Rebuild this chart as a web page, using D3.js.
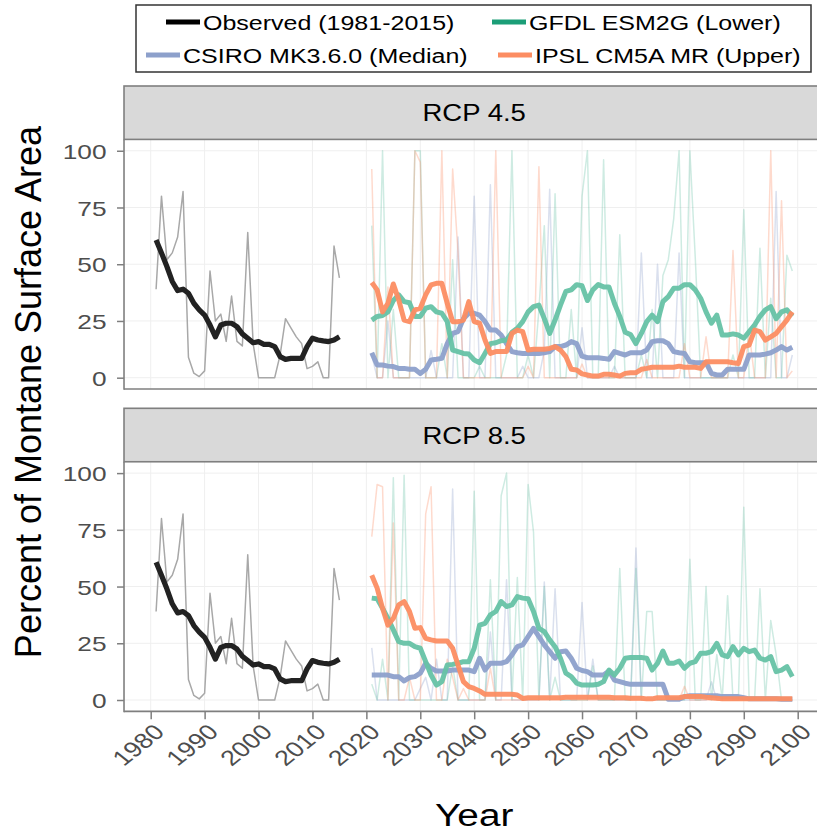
<!DOCTYPE html>
<html><head><meta charset="utf-8">
<script src="https://cdn.jsdelivr.net/npm/d3@7"></script>
<style>
body{margin:0;background:#fff}
text{font-family:"Liberation Sans",Arial,Helvetica,sans-serif}
</style>
</head><body>
<svg id="c" width="817" height="831"></svg>
<script>
// ---------------- DATA ----------------
const panelLabels = ["RCP 4.5", "RCP 8.5"];
const seriesNames = ["Observed (1981-2015)", "CSIRO MK3.6.0 (Median)", "GFDL ESM2G (Lower)", "IPSL CM5A MR (Upper)"];
const yTicks = [0, 25, 50, 75, 100];
const xTicks = [1980, 1990, 2000, 2010, 2020, 2030, 2040, 2050, 2060, 2070, 2080, 2090, 2100];
const obsYears = d3.range(1981, 2016);
const projYears = d3.range(2021, 2100);

const obsRaw = [39, 80, 52, 55, 62, 82, 9, 2, 0.5, 3,
  47, 25, 28, 16, 36, 16, 14, 64, 15, 0,
  0, 0, 0, 10, 26, 22, 18, 15, 4, 5,
  7, 0, 0, 58, 44];
const obsSmooth = [60.7, 55, 49, 42.4, 38.4, 39, 37.2, 32.8, 29.9, 27.6,
  23.2, 18, 23.2, 24, 24, 22.5, 19.3, 17.4, 15.4, 15.9,
  14.7, 14.7, 13.7, 9.3, 8.1, 8.5, 8.5, 8.5, 13.7, 17.4,
  16.6, 16.2, 15.9, 16.6, 18];

// RCP 4.5 smoothed (2021-2099)
const csiro45Smooth = [11, 5.6, 5.6, 5.1, 4.9, 4.1, 4.1, 3.7, 3.7, 1.9,
  3.7, 7.8, 8.1, 8.5, 15, 19.5, 20.3, 26, 28.4, 28.4,
  27.6, 24.7, 21, 21, 18.8, 15, 11.5, 11, 10.7, 10.7,
  10.7, 10.7, 11, 11.5, 13.7, 13.7, 14.4, 15.9, 15, 9.5,
  8.8, 8.8, 8.8, 8.5, 8.1, 11.5, 10.7, 10, 11, 11,
  11, 12.2, 15.9, 16.3, 16.3, 15, 11.5, 11, 10.7, 7,
  6.6, 6.6, 6.6, 1.9, 1.2, 1.2, 3.7, 3.7, 3.7, 3.7,
  10, 10, 10, 10.4, 11, 12.2, 13.7, 12.2, 13.4];
const gfdl45Smooth = [25.4, 27, 27.4, 29, 34, 36.5, 33.5, 33, 27, 27,
  30.6, 31.3, 29, 28.4, 24.7, 12.2, 11.5, 10.7, 10.4, 7.8,
  6.6, 10.7, 15, 15.4, 16.3, 16.6, 20, 21.8, 24.7, 29,
  31.3, 32, 26, 19.5, 25.4, 32, 38, 38.7, 41, 40.5,
  34, 38.7, 41, 40, 40, 32.8, 27, 20, 19, 15,
  19.5, 24.7, 27.6, 24.7, 33.5, 35.7, 39.4, 39.4, 41, 41,
  38.7, 35, 29, 24, 27.6, 18.8, 18.8, 19.3, 18.8, 17.4,
  20.3, 23.2, 27, 29.9, 31.3, 26, 29, 29.9, 27];
const ipsl45Smooth = [41.9, 38.7, 29, 32.8, 41.3, 34.3, 25.4, 24.7, 29.9, 30.6,
  36.5, 40.9, 41.6, 41.6, 32.8, 24.7, 24.7, 25.4, 33.5, 24.7,
  24, 16.6, 10.7, 11.5, 11.5, 11.5, 19.5, 21, 20.3, 12.2,
  12.5, 12.5, 12.5, 12.9, 13.7, 12.2, 9.3, 3.7, 3.4, 1.7,
  1.2, 0.7, 0.7, 1.5, 1.5, 1.2, 0.7, 1.9, 2.2, 2.2,
  3.7, 4.1, 4.6, 4.6, 4.6, 4.6, 4.6, 5.1, 4.6, 4.6,
  4.6, 4.1, 7, 7, 7, 7, 7, 6.6, 6.3, 13.7,
  14.4, 21, 20.3, 16.6, 18, 19.5, 22.5, 25.4, 29];

// RCP 4.5 annual (2021-2099)
const csiro45Raw = [10, 0, 0, 25, 0, 0, 0, 0, 0, 0,
  0, 12, 0, 0, 0, 0, 62, 0, 0, 80,
  0, 0, 85, 0, 0, 0, 0, 0, 5, 0,
  0, 0, 12, 83, 0, 0, 0, 0, 0, 22,
  0, 0, 0, 0, 0, 5, 0, 0, 0, 0,
  55, 0, 0, 50, 0, 0, 0, 55, 0, 0,
  0, 0, 0, 0, 0, 0, 0, 0, 0, 0,
  0, 0, 0, 0, 0, 82, 0, 0, 10];
const gfdl45Raw = [67, 0, 100, 0, 30, 0, 0, 0, 100, 100,
  0, 0, 0, 15, 0, 52, 0, 0, 0, 0,
  5, 0, 0, 0, 0, 10, 100, 0, 0, 10,
  0, 30, 67, 0, 81, 0, 0, 30, 0, 80,
  100, 0, 0, 96, 0, 0, 63, 0, 0, 0,
  10, 0, 30, 0, 45, 52, 70, 100, 0, 100,
  53, 0, 0, 0, 0, 0, 0, 10, 0, 74,
  0, 0, 57, 0, 35, 0, 0, 54, 47];
const ipsl45Raw = [92, 0, 0, 40, 0, 0, 0, 0, 100, 95,
  0, 0, 0, 100, 0, 92, 55, 0, 0, 0,
  0, 0, 0, 100, 0, 0, 0, 0, 0, 5,
  0, 93, 0, 0, 0, 0, 0, 0, 0, 6,
  0, 0, 0, 0, 0, 0, 0, 0, 0, 0,
  0, 8, 0, 0, 0, 0, 0, 0, 15, 0,
  0, 0, 18, 0, 0, 0, 0, 56, 0, 0,
  20, 0, 0, 0, 100, 0, 78, 0, 3];

// RCP 8.5 smoothed (2021-2099)
const csiro85Smooth = [11, 11, 11, 11, 10.3, 10.3, 8.4, 9.9, 10.3, 11.8,
  16.2, 14, 12.8, 12.8, 12.8, 13.2, 13.2, 13.2, 13.2, 12.5,
  18.4, 13.2, 16.2, 16.2, 16.2, 16.9, 19.9, 23.5, 24.3, 27.9,
  31.6, 27.9, 24.3, 21.3, 18.4, 21.3, 21.6, 18.4, 14, 13,
  12.5, 11, 11, 11, 12.8, 8.8, 8.1, 7.4, 6.9, 6.9,
  6.9, 6.9, 6.9, 6.9, 6.9, 0.3, 0.3, 0.3, 1.5, 1.9,
  1.9, 1.9, 1.9, 1.9, 1.9, 1.5, 1.5, 1.5, 1.5, 1,
  0.5, 0.5, 0.5, 0.5, 0.5, 0.5, 0.3, 0.3, 0.3];
const gfdl85Smooth = [44.9, 44.6, 40.4, 36, 30.9, 25.7, 25, 25, 23.5, 22.8,
  16.9, 11, 6.6, 8.1, 15.4, 15.7, 16.2, 16.9, 16.9, 22.8,
  33, 33.8, 37.5, 39, 43.4, 41.2, 41.9, 45.6, 44.9, 44.6,
  39, 31.6, 30.1, 26.5, 23.5, 18.4, 11.8, 10.3, 7.4, 6.6,
  6.6, 6.6, 6.9, 8.1, 13.2, 11, 14, 18.4, 18.7, 18.7,
  18.7, 18.4, 13.2, 16.2, 21.6, 16.2, 16.2, 17.2, 14, 16.2,
  16.9, 20.6, 20.6, 21.3, 25, 19.9, 19.1, 23.5, 19.9, 22.8,
  21.3, 22, 18.4, 17.6, 19.1, 12.5, 13.2, 14.7, 10.3];
const ipsl85Smooth = [55, 49.3, 40.4, 33, 36, 41.9, 43.4, 39, 31.6, 31.9,
  27.2, 26.5, 26, 26, 26, 22.8, 15.4, 8.1, 5.9, 5.1,
  4, 2.5, 2.5, 2.5, 2.5, 2.5, 2.5, 2.2, 0.7, 1,
  1, 1, 1, 1, 1, 1, 1.2, 1.2, 1.2, 1.2,
  1.2, 1.2, 1.2, 1.2, 1.2, 1, 1, 1, 0.8, 0.8,
  0.8, 0.5, 0.5, 1, 1, 1, 1, 1, 1.5, 1.5,
  1.5, 1.5, 1.2, 1, 0.8, 0.5, 0.5, 0.5, 0.5, 0.5,
  0.5, 0.5, 0.5, 0.5, 0.5, 0.5, 0.5, 0.5, 0.5];

// RCP 8.5 annual (2021-2099)
const csiro85Raw = [23, 0, 0, 0, 0, 0, 0, 0, 0, 5,
  10, 0, 18, 0, 0, 93, 0, 0, 0, 0,
  0, 0, 30, 0, 0, 53, 0, 0, 0, 0,
  0, 0, 52, 0, 49, 0, 0, 0, 0, 43,
  0, 18, 0, 0, 0, 0, 0, 0, 0, 67,
  0, 0, 0, 0, 0, 0, 0, 0, 0, 0,
  0, 0, 0, 8, 0, 0, 0, 0, 0, 0,
  0, 0, 0, 0, 0, 0, 0, 0, 0];
const gfdl85Raw = [7, 0, 18, 0, 98, 0, 99, 0, 0, 0,
  0, 0, 0, 0, 0, 15, 0, 0, 0, 92,
  0, 0, 53, 0, 90, 100, 0, 54, 0, 95,
  74, 0, 50, 0, 10, 0, 0, 0, 0, 0,
  0, 15, 0, 0, 0, 0, 58, 0, 0, 58,
  0, 39, 39, 0, 0, 0, 0, 0, 0, 62,
  0, 0, 50, 0, 20, 0, 46, 0, 0, 85,
  0, 0, 49, 0, 35, 20, 0, 0, 0];
const ipsl85Raw = [72, 95, 94, 0, 78, 0, 0, 10, 0, 0,
  82, 94, 0, 0, 18, 10, 0, 5, 0, 0,
  0, 0, 14, 0, 0, 0, 0, 0, 0, 0,
  0, 0, 0, 0, 0, 0, 2, 0, 0, 0,
  0, 0, 0, 0, 0, 0, 0, 0, 0, 0,
  0, 0, 0, 0, 0, 0, 0, 0, 6, 0,
  0, 0, 0, 0, 0, 0, 0, 0, 0, 0,
  0, 0, 0, 0, 0, 0, 0, 0, 0];

// ---------------- STYLE ----------------
const lineColors = {csiro: "#8da0cb", gfdl: "#66c2a5", ipsl: "#fc8d62"};
const keyColors = ["#000000", "#8da0cb", "#1b9e77", "#fc8d62"];
const SX = 1.25; // horizontal glyph stretch of the reference
const gridCol = "#efefef", frameCol = "#7f7f7f", tickTextCol = "#4d4d4d";

const svg = d3.select("#c");
svg.append("rect").attr("width", 817).attr("height", 831).attr("fill", "#fff");

const x = d3.scaleLinear().domain([1980, 2100]).range([150.7, 797.7]);
const X0 = x(1975.05), X1 = x(2104.95);

const panels = [
  {label: panelLabels[0], y: d3.scaleLinear().domain([0, 100]).range([377.7, 150.75]), stripTop: 86,
   csiroR: csiro45Raw, gfdlR: gfdl45Raw, ipslR: ipsl45Raw, csiroS: csiro45Smooth, gfdlS: gfdl45Smooth, ipslS: ipsl45Smooth},
  {label: panelLabels[1], y: d3.scaleLinear().domain([0, 100]).range([700, 473.1]), stripTop: 408.3,
   csiroR: csiro85Raw, gfdlR: gfdl85Raw, ipslR: ipsl85Raw, csiroS: csiro85Smooth, gfdlS: gfdl85Smooth, ipslS: ipsl85Smooth}
];

function stext(g, tx, ty, str, size, anchor, extra, color, sx) {
  return g.append("text")
    .attr("transform", `translate(${tx},${ty}) scale(${sx || SX},1)` + (extra || ""))
    .attr("text-anchor", anchor)
    .attr("fill", color || "#000")
    .style("font-size", size + "px")
    .text(str);
}

panels.forEach((p, i) => {
  const y = p.y;
  const top = y(105), bot = y(-5);
  const g = svg.append("g");
  const clipId = "clip" + i;
  svg.append("clipPath").attr("id", clipId).append("rect")
    .attr("x", X0).attr("y", top).attr("width", X1 - X0).attr("height", bot - top);

  // grid
  const grid = g.append("g").attr("clip-path", `url(#${clipId})`);
  grid.selectAll(".gv").data(xTicks).join("line")
    .attr("x1", d => x(d)).attr("x2", d => x(d)).attr("y1", top).attr("y2", bot)
    .attr("stroke", gridCol).attr("stroke-width", 1);
  grid.selectAll(".gh").data(yTicks).join("line")
    .attr("x1", X0).attr("x2", X1).attr("y1", d => y(d)).attr("y2", d => y(d))
    .attr("stroke", gridCol).attr("stroke-width", 1);

  const plot = g.append("g").attr("clip-path", `url(#${clipId})`);
  const line = d3.line().x(d => x(d[0])).y(d => y(d[1]));
  const zipP = arr => projYears.map((yr, k) => [yr, arr[k]]);
  const zipO = arr => obsYears.map((yr, k) => [yr, arr[k]]);

  // annual (thin, faint)
  [["csiro", p.csiroR], ["gfdl", p.gfdlR], ["ipsl", p.ipslR]].forEach(([k, arr]) => {
    plot.append("path").attr("d", line(zipP(arr))).attr("fill", "none")
      .attr("stroke", lineColors[k]).attr("stroke-opacity", 0.32).attr("stroke-width", 1.5)
      .attr("stroke-linejoin", "round");
  });
  plot.append("path").attr("d", line(zipO(obsRaw))).attr("fill", "none")
    .attr("stroke", "#a8a8a8").attr("stroke-width", 1.5).attr("stroke-linejoin", "round");

  // smoothed (thick)
  plot.append("path").attr("d", line(zipO(obsSmooth))).attr("fill", "none")
    .attr("stroke", "#222").attr("stroke-width", 5.2).attr("stroke-linejoin", "round").attr("stroke-linecap", "butt");
  [["csiro", p.csiroS], ["gfdl", p.gfdlS], ["ipsl", p.ipslS]].forEach(([k, arr]) => {
    plot.append("path").attr("d", line(zipP(arr))).attr("fill", "none")
      .attr("stroke", lineColors[k]).attr("stroke-opacity", 0.95).attr("stroke-width", 5)
      .attr("stroke-linejoin", "round");
  });

  // frame: left and bottom
  g.append("line").attr("x1", X0).attr("x2", X0).attr("y1", top).attr("y2", bot + 0.8)
    .attr("stroke", frameCol).attr("stroke-width", 1.6);
  g.append("line").attr("x1", X0).attr("x2", 830).attr("y1", bot).attr("y2", bot)
    .attr("stroke", frameCol).attr("stroke-width", 1.6);

  // strip
  g.append("rect").attr("x", X0).attr("y", p.stripTop).attr("width", 830 - X0).attr("height", top - p.stripTop)
    .attr("fill", "#d9d9d9").attr("stroke", frameCol).attr("stroke-width", 1.6);
  stext(g, (X0 + X1) / 2, (p.stripTop + top) / 2 + 8.5, p.label, 23.5, "middle", "", "#000", 1.17);

  // y axis
  const ya = g.append("g").attr("transform", `translate(${X0},0)`)
    .call(d3.axisLeft(y).tickValues(yTicks).tickSize(7).tickPadding(7).tickFormat(d3.format("d")));
  ya.select(".domain").remove();
  ya.attr("font-size", null).attr("font-family", null);
  ya.selectAll(".tick line").attr("stroke", frameCol).attr("stroke-width", 1.5);
  ya.selectAll(".tick text").attr("fill", tickTextCol).style("font-size", "21px")
    .attr("transform", `scale(${SX},1)`).attr("x", -14).attr("dy", "0.36em");

  if (i === 1) {
    const xa = g.append("g").attr("transform", `translate(0,${bot})`)
      .call(d3.axisBottom(x).tickValues(xTicks).tickSize(8).tickFormat(d3.format("d")));
    xa.select(".domain").remove();
    xa.attr("font-size", null).attr("font-family", null);
    xa.selectAll(".tick line").attr("stroke", frameCol).attr("stroke-width", 1.5);
    xa.selectAll(".tick text").attr("fill", tickTextCol).style("font-size", "21.5px")
      .attr("x", null).attr("y", null).attr("dy", "0.72em").attr("text-anchor", "end")
      .attr("transform", `translate(1,11) scale(${SX},1) rotate(-45)`);
  }
});

// axis titles
stext(svg, (X0 + X1) / 2, 826, "Year", 31, "middle");
stext(svg, 41, 392, "Percent of Montane Surface Area", 36, "middle", " rotate(-90)", "#000", 1.05);

// legend
const lg = svg.append("g");
lg.append("rect").attr("x", 136).attr("y", 5).attr("width", 675).attr("height", 67)
  .attr("fill", "#fff").attr("stroke", "#333").attr("stroke-width", 1.5);
const legendItems = [
  {name: seriesNames[0], col: keyColors[0], kx: 166, ky: 22},
  {name: seriesNames[2], col: keyColors[2], kx: 492, ky: 22},
  {name: seriesNames[1], col: keyColors[1], kx: 146, ky: 55},
  {name: seriesNames[3], col: keyColors[3], kx: 498, ky: 55}
];
legendItems.forEach(it => {
  lg.append("line").attr("x1", it.kx).attr("x2", it.kx + 34).attr("y1", it.ky).attr("y2", it.ky)
    .attr("stroke", it.col).attr("stroke-width", 5);
  stext(lg, it.kx + 37, it.ky + 7.5, it.name, 20, "start");
});
</script>
</body></html>
